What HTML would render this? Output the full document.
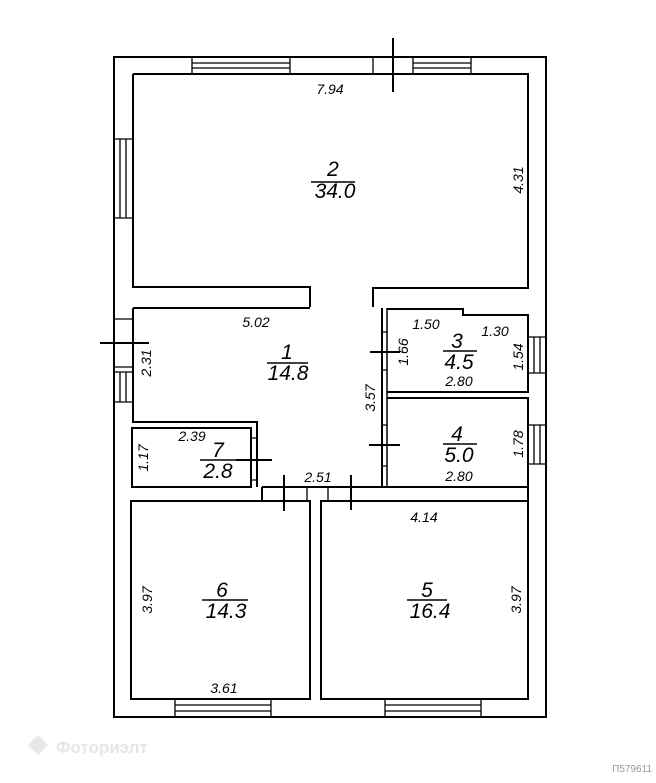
<!DOCTYPE html>
<html><head><meta charset="utf-8"><style>
html,body{margin:0;padding:0;background:#fff;}
svg{display:block;}
.t{font-family:"Liberation Sans",sans-serif;font-style:italic;fill:#000;}
</style></head><body>
<svg width="656" height="783" viewBox="0 0 656 783" xmlns="http://www.w3.org/2000/svg">
<g fill="none" stroke="#000" stroke-width="2">
<rect x="114" y="57" width="432" height="660"/>
<path d="M133 74 H528 V288 H373 V307"/>
<path d="M310 307 V287 H133 V74"/>
<path d="M133 308 H310 M133 308 V422 H257 V487 M382 308 V487"/>
<path d="M387 308 V487" stroke-width="1.5"/>
<path d="M132 428 H251 V487 H132 Z"/>
<path d="M257 428 V487" stroke-width="1.5"/>
<path d="M262 487 H528 M262 501 H310 M321 501 H528 M262 487 V501 M528 487 V501"/>
<path d="M387 309 H463 V315 H528 V392 H387"/>
<path d="M387 398 H528 V487"/>
<rect x="131" y="501" width="179" height="198"/>
<rect x="321" y="501" width="207" height="198"/>
</g>
<g fill="none" stroke="#000" stroke-width="1.3">
<path d="M192 57 V74 H290 V57 M192 63 H290 M192 68 H290"/>
<path d="M413 57 V74 H471 V57 M413 63 H471 M413 68 H471"/>
<path d="M373 57 V74"/>
<path d="M114 139 H133 M114 218 H133 M120 139 V218 M126 139 V218"/>
<path d="M114 319 H133 M114 367 H133"/>
<path d="M114 372 H133 M114 402 H133 M120 372 V402 M126 372 V402"/>
<path d="M528 337 H546 M528 373 H546 M534 337 V373 M540 337 V373"/>
<path d="M528 425 H546 M528 464 H546 M534 425 V464 M540 425 V464"/>
<path d="M175 699 V717 M271 699 V717 M175 705 H271 M175 711 H271"/>
<path d="M385 699 V717 M481 699 V717 M385 705 H481 M385 711 H481"/>
<path d="M382 332 H387 M382 370 H387 M382 425 H387 M382 466 H387"/>
<path d="M251 438 H257 M251 480 H257"/>
<path d="M307 487 V501 M328 487 V501"/>
</g>
<g stroke="#000" stroke-width="2">
<line x1="393" y1="38" x2="393" y2="92"/>
<line x1="100" y1="343" x2="149" y2="343"/>
<line x1="236" y1="460" x2="272" y2="460"/>
<line x1="370" y1="352" x2="400" y2="352"/>
<line x1="369" y1="445" x2="400" y2="445"/>
<line x1="284" y1="475" x2="284" y2="511"/>
<line x1="351" y1="475" x2="351" y2="510"/>
</g>
<g class="t" font-size="21" text-anchor="middle">
<text x="333" y="176">2</text><text x="335" y="198">34.0</text>
<text x="287" y="359">1</text><text x="288" y="380">14.8</text>
<text x="457" y="348">3</text><text x="459" y="369">4.5</text>
<text x="457" y="441">4</text><text x="459" y="462">5.0</text>
<text x="218" y="457">7</text><text x="218" y="478">2.8</text>
<text x="222" y="597">6</text><text x="226" y="618">14.3</text>
<text x="427" y="597">5</text><text x="430" y="618">16.4</text>
</g>
<g stroke="#000" stroke-width="1.5">
<line x1="311" y1="182" x2="355" y2="182"/>
<line x1="267" y1="363" x2="308" y2="363"/>
<line x1="443" y1="351" x2="477" y2="351"/>
<line x1="443" y1="444" x2="477" y2="444"/>
<line x1="200" y1="460" x2="236" y2="460"/>
<line x1="202" y1="600" x2="248" y2="600"/>
<line x1="407" y1="600" x2="447" y2="600"/>
</g>
<g class="t" font-size="14" text-anchor="middle">
<text x="330" y="94">7.94</text>
<text x="256" y="327">5.02</text>
<text x="426" y="329">1.50</text>
<text x="495" y="336">1.30</text>
<text x="459" y="386">2.80</text>
<text x="459" y="481">2.80</text>
<text x="192" y="441">2.39</text>
<text x="318" y="482">2.51</text>
<text x="424" y="522">4.14</text>
<text x="224" y="693">3.61</text>
</g>
<g class="t" font-size="14" text-anchor="middle">
<text transform="translate(523 180) rotate(-90)">4.31</text>
<text transform="translate(151 363) rotate(-90)">2.31</text>
<text transform="translate(408 352) rotate(-90)">1.66</text>
<text transform="translate(523 357) rotate(-90)">1.54</text>
<text transform="translate(375 398) rotate(-90)">3.57</text>
<text transform="translate(523 444) rotate(-90)">1.78</text>
<text transform="translate(148 458) rotate(-90)">1.17</text>
<text transform="translate(152 600) rotate(-90)">3.97</text>
<text transform="translate(521 600) rotate(-90)">3.97</text>
</g>
<g fill="#e8e8e8">
<path d="M38 735 L48 745 L38 755 L28 745 Z"/>
</g>
<text x="56" y="753" font-family="Liberation Sans,sans-serif" font-weight="bold" font-size="17" fill="#e6e6e6">Фоториэлт</text>
<text x="652" y="772" text-anchor="end" font-family="Liberation Sans,sans-serif" font-size="10" fill="#999">П579611</text>
</svg>
</body></html>
